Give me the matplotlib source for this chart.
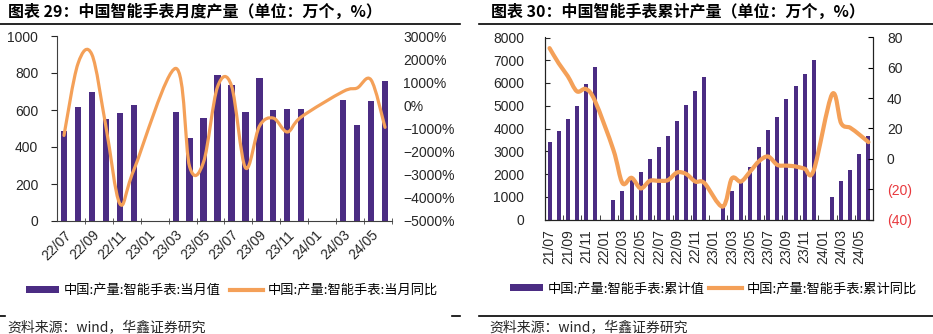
import numpy as np
import matplotlib
matplotlib.use('Agg')
import matplotlib.pyplot as plt
from matplotlib.path import Path
from matplotlib.patches import PathPatch, Patch
from matplotlib.lines import Line2D

plt.rcParams['font.family'] = ['Liberation Sans', 'Noto Sans CJK SC']
CJK = ['Noto Sans CJK SC', 'DejaVu Sans']

nan = np.nan

# ====================== DATA ======================
# chart 29: monthly output (10k units) and monthly YoY (%)
months_m = ['22/07', '22/08', '22/09', '22/10', '22/11', '22/12',
            '23/01', '23/02', '23/03', '23/04', '23/05', '23/06',
            '23/07', '23/08', '23/09', '23/10', '23/11', '23/12',
            '24/01', '24/02', '24/03', '24/04', '24/05', '24/06']
monthly_output = [486, 615, 696, 551, 584, 625,
                  nan, nan, 589, 450, 555, 789,
                  735, 587, 771, 600, 605, 603,
                  nan, nan, 654, 519, 649, 757]
monthly_yoy = [-1300, 1800, 2200, -900, -4250, -2800,
               nan, nan, 1600, -2650, -2450, 800,
               850, -2700, -900, -550, -1150, -500,
               nan, nan, 600, 750, 1100, -950]

# chart 30: cumulative output (10k units) and cumulative YoY (%)
months_c = ['21/07', '21/08', '21/09', '21/10', '21/11', '21/12',
            '22/01', '22/02', '22/03', '22/04', '22/05', '22/06',
            '22/07', '22/08', '22/09', '22/10', '22/11', '22/12',
            '23/01', '23/02', '23/03', '23/04', '23/05', '23/06',
            '23/07', '23/08', '23/09', '23/10', '23/11', '23/12',
            '24/01', '24/02', '24/03', '24/04', '24/05', '24/06']
cum_output = [3400, 3880, 4430, 4980, 5950, 6690,
              nan, 860, 1245, 1750, 2075, 2680,
              3170, 3650, 4350, 5045, 5630, 6255,
              nan, 560, 1250, 1650, 2295, 3180,
              3935, 4510, 5295, 5870, 6415, 7010,
              nan, 1010, 1690, 2190, 2860, 3650]
cum_yoy = [73, 63, 54.5, 44.5, 46, 38,
           nan, 6, -16, -12.5, -19.5, -14.5,
           -14.5, -14, -9, -10, -15, -16,
           nan, -31.5, -13, -15, -8.5, -1.5,
           1.5, -4, -4.5, -5, -6.5, -7.5,
           nan, 42.5, 23.5, 20.5, 16, 11]

PURPLE = '#4B2C83'
ORANGE = '#F4A058'
TXT = '#262626'
W, H = 933, 334


def smooth_path(xs, ys):
    # Excel-style smoothed line (Catmull-Rom as cubic Bezier), gaps connected
    pts = np.array([(x, y) for x, y in zip(xs, ys) if not np.isnan(y)], dtype=float)
    n = len(pts)
    verts = [pts[0]]
    codes = [Path.MOVETO]
    for i in range(n - 1):
        p0 = pts[max(i - 1, 0)]
        p1 = pts[i]
        p2 = pts[i + 1]
        p3 = pts[min(i + 2, n - 1)]
        verts += [p1 + (p2 - p0) / 6, p2 - (p3 - p1) / 6, p2]
        codes += [Path.CURVE4] * 3
    return Path(verts, codes)


def fig_rect(x0, y0, x1, y1):
    return [x0 / W, 1 - y1 / H, (x1 - x0) / W, (y1 - y0) / H]


fig = plt.figure(figsize=(W / 100, H / 100), dpi=100)

# ====================== CHART 29 ======================
ax = fig.add_axes(fig_rect(57, 36, 392, 221))
ax2 = ax.twinx()
x = np.arange(len(months_m))
ax.bar(x, monthly_output, width=0.45, color=PURPLE, zorder=2)
ax2.add_patch(PathPatch(smooth_path(x, monthly_yoy), facecolor='none',
                        edgecolor=ORANGE, lw=2.3, capstyle='round', joinstyle='round'))
ax.set_xlim(-0.5, len(x) - 0.5)
ax.set_ylim(0, 1000)
ax.set_yticks(range(0, 1001, 200))
ax2.set_ylim(-5000, 3000)
ax2.set_yticks(range(-5000, 3001, 1000))
ax2.set_yticklabels([f'{v}%'.replace('-', '\u2212') for v in range(-5000, 3001, 1000)])
ax.set_xticks(x[::2])
ax.set_xticklabels(months_m[::2], rotation=45, ha='right', va='top', rotation_mode='anchor')
ax.set_xticks(np.arange(1.5, len(x), 2), minor=True)
ax.tick_params(axis='x', which='major', length=0, pad=5, labelsize=10, colors=TXT)
ax.tick_params(axis='x', which='minor', length=4, direction='inout', color='#404040')
ax.tick_params(axis='y', length=4, direction='out', pad=9.5, labelsize=10, colors=TXT)
ax2.tick_params(axis='y', length=0, pad=8, labelsize=10, colors=TXT)
for s in ['top', 'right']:
    ax.spines[s].set_visible(False)
for s in ['top', 'right', 'left', 'bottom']:
    ax2.spines[s].set_visible(False)
ax.spines['left'].set_color('#404040')
ax.spines['bottom'].set_color('#404040')

handles = [Patch(facecolor=PURPLE), Line2D([], [], color=ORANGE, lw=3)]
fig.legend(handles, ['中国:产量:智能手表:当月值', '中国:产量:智能手表:当月同比'],
           loc='center', bbox_to_anchor=(232 / W, 1 - 290.7 / H), ncol=2, frameon=False,
           prop={'family': CJK, 'size': 9.5}, handlelength=2.5, handleheight=0.4,
           handletextpad=0.35, columnspacing=0.7, borderpad=0, borderaxespad=0)

# ====================== CHART 30 ======================
bx = fig.add_axes(fig_rect(545, 37.5, 873, 219.5))
bx2 = bx.twinx()
xc = np.arange(len(months_c))
bx.bar(xc, cum_output, width=0.45, color=PURPLE, zorder=2)
bx2.add_patch(PathPatch(smooth_path(xc, cum_yoy), facecolor='none',
                        edgecolor=ORANGE, lw=3, capstyle='round', joinstyle='round'))
bx.set_xlim(-0.5, len(xc) - 0.5)
bx.set_ylim(0, 8000)
bx.set_yticks(range(0, 8001, 1000))
bx2.set_ylim(-40, 80)
yt = list(range(-40, 81, 20))
bx2.set_yticks(yt)
bx2.set_yticklabels([f'({-v})' if v < 0 else f'{v}' for v in yt])
for lab, v in zip(bx2.get_yticklabels(), yt):
    lab.set_color('#E8383D' if v < 0 else TXT)
bx.set_xticks(xc[::2])
bx.set_xticklabels(months_c[::2], rotation=90, ha='center', va='top')
bx.set_xticks(np.arange(1.5, len(xc), 2), minor=True)
bx.tick_params(axis='x', which='major', length=0, pad=7, labelsize=10, colors=TXT)
bx.tick_params(axis='x', which='minor', length=3.5, direction='in', color='#222222')
bx.tick_params(axis='y', length=3.5, direction='in', pad=15, labelsize=10, colors=TXT)
bx2.tick_params(axis='y', length=3.5, direction='in', pad=10, labelsize=10)
bx.spines['top'].set_visible(False)
bx2.spines['top'].set_visible(False)
for s in ['left', 'right', 'bottom']:
    bx.spines[s].set_color('#222222')
    bx2.spines[s].set_color('#222222')

fig.legend(handles, ['中国:产量:智能手表:累计值', '中国:产量:智能手表:累计同比'],
           loc='center', bbox_to_anchor=(713.5 / W, 1 - 289 / H), ncol=2, frameon=False,
           prop={'family': CJK, 'size': 9.5}, handlelength=2.5, handleheight=0.4,
           handletextpad=0.35, columnspacing=0.3, borderpad=0, borderaxespad=0)

# ====================== TITLES / RULES / SOURCES ======================
fig.text(8 / W, 1 - 12 / H, '图表 29：中国智能手表月度产量（单位：万个，%）',
         fontsize=11.5, fontweight='bold', va='center', family=CJK)
fig.text(491 / W, 1 - 12 / H, '图表 30：中国智能手表累计产量（单位：万个，%）',
         fontsize=11.5, fontweight='bold', va='center', family=CJK)

y_top = 1 - 24 / H
y_bot = 1 - 315.7 / H
fig.add_artist(Line2D([0, 460 / W], [y_top, y_top], color='black', lw=1.2))
fig.add_artist(Line2D([479 / W, 1], [y_top, y_top], color='black', lw=1.2))
fig.add_artist(Line2D([0, 5 / W], [y_bot, y_bot], color='black', lw=1.2))
fig.add_artist(Line2D([452 / W, 460 / W], [y_bot, y_bot], color='black', lw=1.2))
fig.add_artist(Line2D([479 / W, 1], [y_bot, y_bot], color='black', lw=1.2))

fig.text(7 / W, 1 - 327.5 / H, '资料来源：wind，华鑫证券研究', fontsize=10,
         va='center', family=CJK, color=TXT)
fig.text(489 / W, 1 - 327.5 / H, '资料来源：wind，华鑫证券研究', fontsize=10,
         va='center', family=CJK, color=TXT)

fig.savefig('out.png', dpi=100)
